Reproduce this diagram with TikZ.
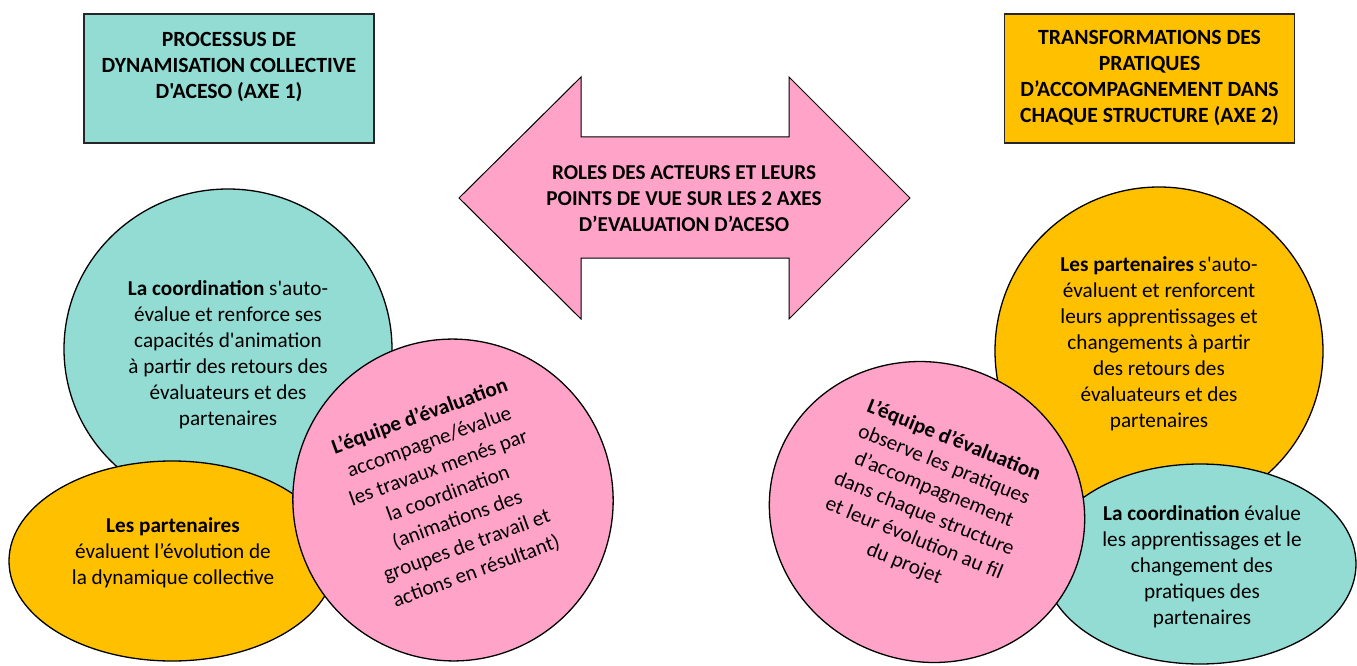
\documentclass[tikz,border=0pt]{standalone}
\usepackage{fontspec}
\setmainfont{Carlito}[Ligatures=TeXOff]
\usetikzlibrary{shapes.geometric}
\definecolor{turquoise}{RGB}{146,220,212}
\definecolor{jaune}{RGB}{255,192,0}
\definecolor{rose}{RGB}{255,164,200}

\begin{document}
\begin{tikzpicture}[x=1pt,y=-1pt,
  bulle/.style={ellipse, draw=black, line width=1.3pt, inner sep=0pt},
  texte/.style={align=center, inner sep=0pt, font=\fontsize{21.2}{26}\selectfont},
  cadre/.style={rectangle, draw=black!85, line width=1.6pt, inner sep=0pt, align=center,
    minimum width=290pt, minimum height=129pt, font=\bfseries\fontsize{21.7}{26}\selectfont}]
\useasboundingbox (0,0) rectangle (1357,666);

% axe 1 : bulles de gauche
\node[bulle, fill=turquoise, minimum width=328pt, minimum height=320pt] (coordG) at (228,349) {};
\node[bulle, fill=jaune, minimum width=326pt, minimum height=200pt] (partG) at (172,561) {};
\node[bulle, fill=rose, rotate=20, minimum width=320pt, minimum height=322pt] (equipeG) at (453,500) {};
\node[texte] (coordGtxt) at (228,355)
  {\textbf{La coordination} s'auto-\\évalue et renforce ses\\capacités d'animation\\à partir des retours des\\évaluateurs et des\\partenaires};
\node[texte] (partGtxt) at (173,553)
  {\textbf{Les partenaires}\\évaluent l’évolution de\\la dynamique collective};
\node[texte, rotate=20, font=\fontsize{21.2}{27.5}\selectfont] (equipeGtxt) at (448,494)
  {\textbf{L’équipe d’évaluation}\\accompagne/évalue\\les travaux menés par\\la coordination\\(animations des\\groupes de travail et\\actions en résultant)};

% axe 2 : bulles de droite
\node[bulle, fill=jaune, minimum width=328pt, minimum height=328pt] (partD) at (1159,351) {};
\node[bulle, fill=turquoise, minimum width=312pt, minimum height=200pt] (coordD) at (1200,564) {};
\node[bulle, fill=rose, rotate=-22, minimum width=318pt, minimum height=298pt] (equipeD) at (927,512) {};
\node[texte] (partDtxt) at (1159,344)
  {\textbf{Les partenaires} s'auto-\\évaluent et renforcent\\leurs apprentissages et\\changements à partir\\des retours des\\évaluateurs et des\\partenaires};
\node[texte] (coordDtxt) at (1202,567)
  {\textbf{La coordination} évalue\\les apprentissages et le\\changement des\\pratiques des\\partenaires};
\node[texte, rotate=-22, font=\fontsize{21.2}{26.5}\selectfont] (equipeDtxt) at (929,502)
  {\textbf{L’équipe d’évaluation}\\observe les pratiques\\d’accompagnement\\dans chaque structure\\et leur évolution au fil\\du projet};

% titres des axes
\node[cadre, fill=turquoise] (axeG) at (229,78.5)
  {PROCESSUS DE\\DYNAMISATION COLLECTIVE\\D'ACESO (AXE 1)\\\mbox{}};
\node[cadre, fill=jaune] (axeD) at (1149.5,78.5)
  {TRANSFORMATIONS DES\\PRATIQUES\\D’ACCOMPAGNEMENT DANS\\CHAQUE STRUCTURE (AXE 2)};

% double fleche centrale
\draw[fill=rose, draw=black, line width=1pt, line join=miter]
  (459,198) -- (581,77) -- (581,137) -- (789,137) -- (789,77) -- (910,198)
  -- (789,319) -- (789,258) -- (581,258) -- (581,319) -- cycle;
\node[texte, font=\bfseries\fontsize{21.2}{26}\selectfont] (roles) at (684,199)
  {ROLES DES ACTEURS ET LEURS\\POINTS DE VUE SUR LES 2 AXES\\D’EVALUATION D’ACESO};
\end{tikzpicture}
\end{document}
